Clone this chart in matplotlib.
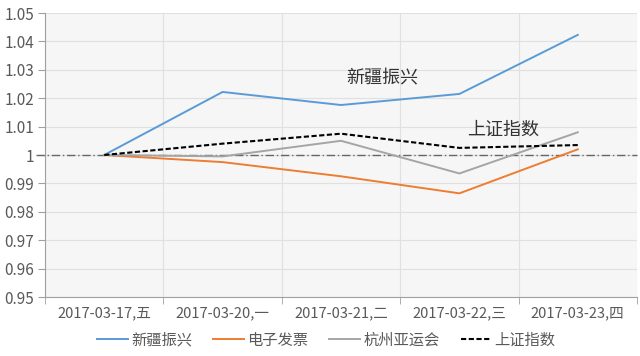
import matplotlib
matplotlib.use("Agg")
import matplotlib.pyplot as plt
import numpy as np

plt.rcParams['font.family'] = ['Noto Sans CJK SC', 'DejaVu Sans']

dates = ["2017-03-17,五", "2017-03-20,一", "2017-03-21,二", "2017-03-22,三", "2017-03-23,四"]
xinjiang = [1.0, 1.0222, 1.0176, 1.0215, 1.0423]
fapiao = [1.0, 0.9975, 0.9925, 0.9865, 1.002]
yayun = [1.0, 0.9995, 1.005, 0.9935, 1.008]
shangzheng = [1.0, 1.004, 1.0075, 1.0025, 1.0035]
yticks = [0.95, 0.96, 0.97, 0.98, 0.99, 1.0, 1.01, 1.02, 1.03, 1.04, 1.05]
ylabels = ["0.95", "0.96", "0.97", "0.98", "0.99", "1", "1.01", "1.02", "1.03", "1.04", "1.05"]

fig = plt.figure(figsize=(6.4, 3.56), dpi=100)
ax = fig.add_axes([45/640, 59/356, 592/640, 284/356])
ax.set_facecolor('#f6f6f6')

x = np.arange(len(dates))
ax.plot(x, xinjiang, color='#5B9BD5', lw=1.4, label='新疆振兴')
ax.plot(x, fapiao, color='#ED7D31', lw=1.4, label='电子发票')
ax.plot(x, yayun, color='#A5A5A5', lw=1.4, label='杭州亚运会')
ax.plot(x, shangzheng, color='black', lw=1.5, ls=(0, (2.5, 1.2)), label='上证指数')
ax.axhline(1.0, xmin=-0.015, color='#666666', lw=1.0, ls=(0, (6, 2, 1, 2)), clip_on=False, zorder=1.8)

ax.set_xlim(-0.5, len(dates) - 0.5)
ax.set_ylim(0.95, 1.05)
ax.set_yticks(yticks)
ax.set_yticklabels(ylabels)
ax.set_xticks(x)
ax.set_xticklabels(dates)
ax.set_xticks(np.arange(-0.5, len(dates), 1.0), minor=True)
ax.tick_params(axis='x', which='major', length=0, pad=7, labelsize=10.5, colors='#595959')
ax.tick_params(axis='x', which='minor', length=5, color='#a0a0a0')
ax.tick_params(axis='y', length=5, color='#a0a0a0', labelsize=11, labelcolor='#595959', pad=3)
ax.grid(axis='y', color='#e0e0e0', lw=0.8)
ax.grid(axis='x', which='minor', color='#e0e0e0', lw=0.8)
for s in ['top', 'right']:
    ax.spines[s].set_visible(False)
for s in ['left', 'bottom']:
    ax.spines[s].set_color('#a0a0a0')

ax.text(2.35, 1.0271, '新疆振兴', fontsize=13, color='#333333', ha='center', va='center')
ax.text(3.37, 1.0088, '上证指数', fontsize=13, color='#333333', ha='center', va='center')

fig.legend(loc='center', bbox_to_anchor=(0.51, 16/356), ncol=4, frameon=False,
           fontsize=11, handlelength=2.0, handletextpad=0.2, columnspacing=1.4,
           labelcolor='#595959')

fig.savefig('out.png', dpi=100)
